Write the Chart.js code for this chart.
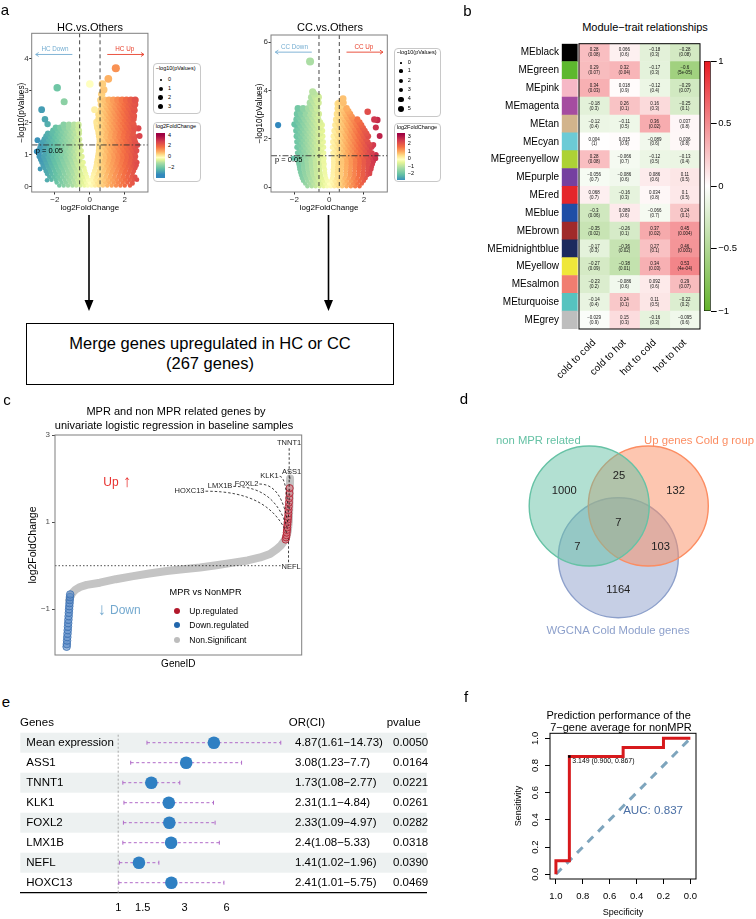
<!DOCTYPE html>
<html>
<head>
<meta charset="utf-8">
<title>Figure</title>
<script src="https://cdn.jsdelivr.net/npm/chart.js@4.4.1/dist/chart.umd.min.js"></script>
<style>
  html, body { margin: 0; padding: 0; background: #fff; }
  body { position: relative; width: 756px; height: 919px; overflow: hidden;
         font-family: "Liberation Sans", Arial, sans-serif; color: #000; }
  canvas { position: absolute; }
  .txt { position: absolute; white-space: nowrap; line-height: 1; }
  .box { position: absolute; box-sizing: border-box; }
  svg { position: absolute; left: 0; top: 0; }
</style>
</head>
<body>
<svg width="756" height="919">
  <line x1="89" y1="215" x2="89" y2="302" stroke="#000" stroke-width="1.6"/>
  <polygon points="84.5,300 93.5,300 89,311" fill="#000"/>
  <line x1="328.5" y1="215" x2="328.5" y2="302" stroke="#000" stroke-width="1.6"/>
  <polygon points="324,300 333,300 328.5,311" fill="#000"/>
</svg>
<div class="box" style="left:26px;top:322.7px;width:368px;height:62.3px;border:1.5px solid #000"></div>
<script>
// ======================================
// Data
// ======================================

// a: volcano plots, rows of [ -log10(p), [log2FC, ...] ]

const hcRows = [
    [0.04, [-1.75, -1.5, -1.25, -1.0, -0.78, -0.55, -0.32, -0.12, 0.1, 0.3, 0.52, 0.75, 1.0, 1.25, 1.5, 1.75, 2.0, 2.3]],
    [0.22, [-2.2, -1.95, -1.7, -1.45, -1.2, -0.95, -0.72, -0.5, -0.28, -0.1, 0.12, 0.32, 0.55, 0.78, 1.02, 1.27, 1.52, 1.77, 2.02, 2.27, 2.5]],
    [0.4, [-2.45, -2.2, -1.95, -1.7, -1.45, -1.2, -0.95, -0.72, -0.48, -0.22, 0.2, 0.45, 0.7, 0.95, 1.2, 1.45, 1.7, 1.95, 2.2, 2.45]],
    [0.58, [-2.6, -2.35, -2.1, -1.85, -1.6, -1.35, -1.1, -0.85, -0.6, -0.32, 0.32, 0.6, 0.85, 1.1, 1.35, 1.6, 1.85, 2.1, 2.35, 2.6]],
    [0.76, [-2.75, -2.5, -2.25, -2.0, -1.75, -1.5, -1.25, -1.0, -0.75, -0.5, -0.38, 0.38, 0.55, 0.8, 1.05, 1.3, 1.55, 1.8, 2.05, 2.3, 2.55, 2.7]],
    [0.94, [-2.9, -2.65, -2.4, -2.15, -1.9, -1.65, -1.4, -1.15, -0.9, -0.65, -0.45, 0.45, 0.65, 0.9, 1.15, 1.4, 1.65, 1.9, 2.15, 2.4, 2.62]],
    [1.12, [-2.95, -2.7, -2.45, -2.2, -1.95, -1.7, -1.45, -1.2, -0.95, -0.7, -0.5, 0.5, 0.72, 0.97, 1.22, 1.47, 1.72, 1.97, 2.22, 2.47, 2.68]],
    [1.3, [-2.8, -2.55, -2.3, -2.05, -1.8, -1.55, -1.3, -1.05, -0.8, -0.55, 0.52, 0.75, 1.0, 1.25, 1.5, 1.75, 2.0, 2.25, 2.5]],
    [1.48, [-2.6, -2.35, -2.1, -1.85, -1.6, -1.35, -1.1, -0.85, -0.6, 0.55, 0.8, 1.05, 1.3, 1.55, 1.8, 2.05, 2.3, 2.55]],
    [1.66, [-2.4, -2.15, -1.9, -1.65, -1.4, -1.15, -0.9, -0.62, 0.5, 0.7, 0.95, 1.2, 1.45, 1.7, 1.95, 2.2, 2.45]],
    [1.84, [-1.95, -1.7, -1.45, -1.2, -0.95, -0.68, 0.42, 0.62, 0.87, 1.12, 1.37, 1.62, 1.87, 2.12, 2.37, 2.55]],
    [2.02, [0.38, 0.65, 0.9, 1.15, 1.4, 1.65, 1.9, 2.15, 2.4]],
    [2.2, [0.6, 0.85, 1.1, 1.35, 1.6, 1.85, 2.1, 2.35, 2.52]],
    [2.38, [0.62, 0.87, 1.12, 1.37, 1.62, 1.87, 2.12, 2.37, 2.55]],
    [2.56, [0.65, 0.9, 1.15, 1.4, 1.65, 1.9, 2.15, 2.4, 2.58]],
    [2.7, [0.62, 0.85, 1.1, 1.35, 1.6, 1.85, 2.1, 2.35, 2.6]]
];

// second, staggered layer of the HC cloud
const hcRowsB = [
    [0.13, [-1.9, -1.62, -1.37, -1.12, -0.88, -0.65, -0.42, -0.2, 0.0, 0.2, 0.42, 0.65, 0.88, 1.12, 1.37, 1.62, 1.88, 2.15, 2.42]],
    [0.31, [-2.32, -2.07, -1.82, -1.57, -1.32, -1.07, -0.83, -0.6, -0.38, -0.16, 0.16, 0.38, 0.65, 0.9, 1.15, 1.4, 1.65, 1.9, 2.15, 2.4, 2.6]],
    [0.49, [-2.52, -2.27, -2.02, -1.77, -1.52, -1.27, -1.02, -0.78, -0.55, -0.28, 0.26, 0.52, 0.78, 1.03, 1.28, 1.53, 1.78, 2.03, 2.28, 2.52]],
    [0.67, [-2.68, -2.43, -2.18, -1.93, -1.68, -1.43, -1.18, -0.93, -0.68, -0.45, 0.36, 0.58, 0.72, 0.97, 1.22, 1.47, 1.72, 1.97, 2.22, 2.47, 2.66]],
    [0.85, [-2.82, -2.57, -2.32, -2.07, -1.82, -1.57, -1.32, -1.07, -0.82, -0.57, 0.42, 0.6, 0.85, 1.1, 1.35, 1.6, 1.85, 2.1, 2.35, 2.58]],
    [1.03, [-2.9, -2.57, -2.32, -2.07, -1.82, -1.57, -1.32, -1.07, -0.82, -0.6, 0.48, 0.6, 0.85, 1.1, 1.35, 1.6, 1.85, 2.1, 2.35, 2.58]],
    [1.21, [-2.85, -2.6, -2.35, -2.1, -1.85, -1.6, -1.35, -1.1, -0.85, -0.62, 0.52, 0.62, 0.87, 1.12, 1.37, 1.62, 1.87, 2.12, 2.37, 2.6]],
    [1.39, [-2.7, -2.45, -2.2, -1.95, -1.7, -1.45, -1.2, -0.95, -0.7, 0.55, 0.65, 0.9, 1.15, 1.4, 1.65, 1.9, 2.15, 2.4, 2.6]],
    [1.57, [-2.5, -2.25, -2.0, -1.75, -1.5, -1.25, -1.0, -0.75, 0.52, 0.68, 0.92, 1.17, 1.42, 1.67, 1.92, 2.17, 2.42, 2.55]],
    [1.75, [-2.1, -1.82, -1.57, -1.32, -1.07, -0.82, -0.62, 0.48, 0.75, 1.0, 1.25, 1.5, 1.75, 2.0, 2.25, 2.5]],
    [1.93, [-1.5, -1.2, -0.9, -0.65, 0.4, 0.55, 0.78, 1.02, 1.27, 1.52, 1.77, 2.02, 2.27, 2.5]],
    [2.11, [0.5, 0.75, 1.0, 1.25, 1.5, 1.75, 2.0, 2.25, 2.5]],
    [2.29, [0.72, 0.97, 1.22, 1.47, 1.72, 1.97, 2.22, 2.45]],
    [2.47, [0.75, 1.0, 1.25, 1.5, 1.75, 2.0, 2.25, 2.5]],
    [2.63, [0.75, 1.0, 1.25, 1.5, 1.75, 2.0, 2.25, 2.5]]
];

// [log2FC, -log10(p)]
const hcExtra = [
    [-1.87, 3.08], [-1.47, 2.65], [-2.76, 2.4], [-2.57, 2.1], [-2.42, 1.95], [-3.0, 1.45],
    [-3.05, 1.1], [-2.85, 0.55], [-2.45, 0.2], [0.0, 3.2], [0.27, 2.4], [0.5, 2.25],
    [0.72, 3.2], [0.8, 3.02], [0.68, 2.88], [1.06, 3.36], [1.49, 3.69], [2.78, 1.82],
    [2.85, 1.58], [2.72, 1.3], [2.7, 0.22], [2.45, 0.1]
];

const ccRows = [
    [0.04, [-1.25, -1.0, -0.78, -0.55, -0.32, -0.12, 0.1, 0.3, 0.52, 0.75, 1.0, 1.25, 1.5, 1.75]],
    [0.27, [-1.5, -1.25, -1.0, -0.78, -0.55, -0.32, -0.12, 0.12, 0.32, 0.55, 0.78, 1.0, 1.25, 1.5, 1.75, 2.0]],
    [0.5, [-1.62, -1.4, -1.17, -0.95, -0.72, -0.48, -0.22, 0.2, 0.45, 0.7, 0.95, 1.2, 1.45, 1.7, 1.95, 2.2]],
    [0.73, [-1.7, -1.47, -1.23, -1.0, -0.77, -0.53, -0.25, 0.22, 0.47, 0.72, 0.97, 1.22, 1.47, 1.72, 1.97, 2.22, 2.42]],
    [0.96, [-1.75, -1.5, -1.27, -1.03, -0.8, -0.55, -0.28, 0.25, 0.5, 0.75, 1.0, 1.25, 1.5, 1.75, 2.0, 2.25, 2.5]],
    [1.19, [-1.8, -1.55, -1.3, -1.05, -0.82, -0.57, -0.3, 0.25, 0.5, 0.75, 1.0, 1.25, 1.5, 1.75, 2.0, 2.25, 2.5, 2.68]],
    [1.42, [-1.82, -1.57, -1.33, -1.08, -0.84, -0.6, -0.32, 0.22, 0.47, 0.72, 0.97, 1.22, 1.47, 1.72, 1.97, 2.22, 2.47]],
    [1.65, [-1.85, -1.6, -1.35, -1.1, -0.85, -0.6, -0.33, 0.2, 0.45, 0.7, 0.95, 1.2, 1.45, 1.7, 1.95, 2.2, 2.45]],
    [1.88, [-1.85, -1.6, -1.35, -1.1, -0.85, -0.6, -0.35, 0.22, 0.47, 0.72, 0.97, 1.22, 1.47, 1.72, 1.97, 2.22]],
    [2.11, [-1.88, -1.63, -1.38, -1.13, -0.88, -0.63, -0.38, 0.25, 0.5, 0.75, 1.0, 1.25, 1.5, 1.75, 2.0, 2.25]],
    [2.34, [-1.9, -1.65, -1.4, -1.15, -0.9, -0.65, -0.4, 0.3, 0.55, 0.8, 1.05, 1.3, 1.55, 1.8, 2.05]],
    [2.57, [-1.9, -1.65, -1.4, -1.15, -0.9, -0.65, -0.42, 0.35, 0.6, 0.85, 1.1, 1.35, 1.6, 1.85]],
    [2.8, [-1.88, -1.63, -1.38, -1.13, -0.88, -0.63, 0.4, 0.65, 0.9, 1.15, 1.4, 1.62]],
    [3.03, [-1.85, -1.6, -1.35, -1.1, -0.85, -0.6, 0.45, 0.7, 0.95, 1.2]],
    [3.26, [-1.8, -1.5, -1.2, -0.95, -0.7, 0.5, 0.75, 1.0]],
    [3.49, [-1.1, -0.85, -0.62, 0.58, 0.82]],
    [3.72, [-1.02, -0.78, -0.62]],
    [3.95, [-0.95]]
];

const ccRowsB = [
    [0.15, [-1.38, -1.12, -0.9, -0.67, -0.44, -0.22, 0.0, 0.2, 0.42, 0.64, 0.88, 1.12, 1.38, 1.62, 1.88]],
    [0.38, [-1.57, -1.33, -1.1, -0.88, -0.65, -0.42, -0.18, 0.18, 0.42, 0.65, 0.88, 1.12, 1.38, 1.62, 1.88, 2.1]],
    [0.61, [-1.66, -1.43, -1.2, -0.97, -0.74, -0.5, -0.25, 0.22, 0.46, 0.7, 0.95, 1.2, 1.45, 1.7, 1.95, 2.2, 2.35]],
    [0.84, [-1.72, -1.48, -1.25, -1.02, -0.78, -0.55, -0.3, 0.25, 0.48, 0.73, 0.98, 1.23, 1.48, 1.73, 1.98, 2.23, 2.45]],
    [1.07, [-1.78, -1.53, -1.28, -1.05, -0.8, -0.56, -0.32, 0.26, 0.52, 0.77, 1.02, 1.27, 1.52, 1.77, 2.02, 2.27, 2.55]],
    [1.3, [-1.68, -1.42, -1.18, -0.93, -0.69, -0.44, 0.37, 0.62, 0.87, 1.12, 1.37, 1.62, 1.87, 2.12, 2.37, 2.6]],
    [1.53, [-1.7, -1.45, -1.2, -0.96, -0.72, -0.46, 0.34, 0.58, 0.83, 1.08, 1.33, 1.58, 1.83, 2.08, 2.33]],
    [1.76, [-1.72, -1.47, -1.22, -0.97, -0.72, -0.47, 0.32, 0.58, 0.83, 1.08, 1.33, 1.58, 1.83, 2.08, 2.33]],
    [1.99, [-1.75, -1.5, -1.25, -1.0, -0.75, -0.5, 0.37, 0.62, 0.87, 1.12, 1.37, 1.62, 1.87, 2.12]],
    [2.22, [-1.77, -1.52, -1.27, -1.02, -0.77, -0.52, 0.42, 0.67, 0.92, 1.17, 1.42, 1.67, 1.92, 2.15]],
    [2.45, [-1.78, -1.53, -1.28, -1.03, -0.78, -0.53, 0.47, 0.72, 0.97, 1.22, 1.47, 1.72, 1.95]],
    [2.68, [-1.76, -1.5, -1.25, -1.0, -0.75, -0.52, 0.52, 0.77, 1.02, 1.27, 1.52, 1.75]],
    [2.91, [-1.72, -1.47, -1.22, -0.97, -0.72, 0.55, 0.8, 1.05, 1.3]],
    [3.14, [-1.65, -1.35, -1.05, -0.8, 0.6, 0.85, 1.1]],
    [3.38, [-1.0, -0.75, 0.65]],
    [3.6, [-0.95, -0.7]],
    [3.85, [-0.85]]
];

const ccExtra = [
    [-1.1, 5.2], [-2.94, 2.57], [-0.65, 3.75], [0.8, 3.66], [0.5, 3.45], [2.22, 3.12],
    [2.6, 2.8], [2.78, 2.78], [2.69, 2.47], [2.91, 2.12], [2.55, 1.75], [2.7, 1.35],
    [2.35, 0.55], [-2.0, 2.6], [-2.05, 1.2]
];

const FC_CUT = 0.585;      // log2(1.5)
const P_CUT = 1.301;       // -log10(0.05)

// b: module-trait heatmap

const modules = ['MEblack', 'MEgreen', 'MEpink', 'MEmagenta', 'MEtan', 'MEcyan', 'MEgreenyellow', 'MEpurple',
    'MEred', 'MEblue', 'MEbrown', 'MEmidnightblue', 'MEyellow', 'MEsalmon', 'MEturquoise', 'MEgrey'];

const moduleColors = ['#000000', '#5db82e', '#f6b8c6', '#a54ca0', '#d2b48c', '#6ccbd6', '#add235', '#7540a0',
    '#e5262b', '#1f4ea6', '#a02a2a', '#1c2a5e', '#efe73a', '#f07d70', '#56c3bf', '#bebebe'];

const traits = ['cold to cold', 'cold to hot', 'hot to cold', 'hot to hot'];

const corValues = [
    [0.28, 0.066, -0.18, -0.28],
    [0.29, 0.32, -0.17, -0.6],
    [0.34, 0.018, -0.12, -0.29],
    [-0.18, 0.26, 0.16, -0.25],
    [-0.12, -0.11, 0.36, 0.037],
    [0.004, 0.015, -0.089, 0.036],
    [0.28, -0.066, -0.12, -0.13],
    [-0.056, -0.086, 0.086, 0.11],
    [0.068, -0.16, 0.034, 0.1],
    [-0.3, 0.089, -0.066, 0.24],
    [-0.35, -0.26, 0.37, 0.45],
    [-0.17, -0.36, 0.27, 0.46],
    [-0.27, -0.38, 0.34, 0.53],
    [-0.23, -0.086, 0.092, 0.29],
    [-0.14, 0.24, 0.11, -0.22],
    [-0.029, 0.15, -0.16, -0.095]
];

const corP = [
    ['0.08', '0.6', '0.3', '0.08'],
    ['0.07', '0.04', '0.3', '5e-05'],
    ['0.03', '0.9', '0.4', '0.07'],
    ['0.3', '0.1', '0.3', '0.1'],
    ['0.4', '0.5', '0.02', '0.8'],
    ['1', '0.9', '0.6', '0.8'],
    ['0.08', '0.7', '0.5', '0.4'],
    ['0.7', '0.6', '0.6', '0.5'],
    ['0.7', '0.3', '0.8', '0.5'],
    ['0.06', '0.6', '0.7', '0.1'],
    ['0.02', '0.1', '0.02', '0.004'],
    ['0.3', '0.02', '0.1', '0.003'],
    ['0.09', '0.01', '0.03', '4e-04'],
    ['0.2', '0.6', '0.6', '0.07'],
    ['0.4', '0.1', '0.5', '0.2'],
    ['0.9', '0.3', '0.3', '0.6']
];

const colorStrip = [-0.572, -0.056];
const corTicks = [-1, -0.5, 0, 0.5, 1];

// c: ranked log2FoldChange (MPR vs NonMPR)

const downRank = [0, 1, 2, 3, 4, 5, 6, 7, 8, 9, 10, 11, 12, 13, 14, 15, 16];
const downFC = [-1.86, -1.8, -1.72, -1.64, -1.56, -1.48, -1.4, -1.32, -1.24, -1.16, -1.08, -1.0, -0.93, -0.86, -0.79, -0.72, -0.66];

const nsRank = [12, 16, 22, 30, 40, 60, 90, 149, 220, 298, 370, 448, 520, 597, 670, 746, 810, 866, 910, 940, 960, 970, 980, 985, 990, 994, 997, 1000];
const nsFC = [-0.78, -0.72, -0.66, -0.6, -0.55, -0.49, -0.44, -0.39, -0.31, -0.24, -0.18, -0.12, -0.08, -0.04, 0.01, 0.07, 0.12, 0.19, 0.27, 0.38, 0.47, 0.54, 0.62, 0.69, 0.8, 1.0, 1.4, 2.0];

const upRank = [980, 982, 984, 985, 986, 987, 988, 989, 990, 991, 992, 993, 994, 995, 996, 997, 998];
const upFC = [0.6, 0.65, 0.7, 0.76, 0.82, 0.88, 0.94, 1.0, 1.06, 1.12, 1.2, 1.28, 1.36, 1.45, 1.55, 1.66, 1.78];

const labeledGenes = ['TNNT1', 'ASS1', 'KLK1', 'FOXL2', 'LMX1B', 'HOXC13', 'NEFL'];
const labeledRank = [996, 999, 994, 992, 990, 988, 993];
const labeledFC = [1.3, 1.95, 1.05, 0.92, 0.82, 0.72, 0.62];
// where each label sits (rank, log2FC) and how its leader runs
const labelRankPos = [995.5, 1006.7, 908, 805, 686.5, 550, 1004.5];
const labelFCPos = [2.81, 2.16, 2.05, 1.875, 1.82, 1.71, -0.035];
const labelLeader = ['below', 'below', 'side', 'side', 'side', 'side', 'above'];

// d: Venn counts (A = non MPR related, B = Up genes Cold group, C = WGCNA Cold Module genes)

const vennCounts = [1000, 132, 1164, 25, 7, 103, 7];   // A, B, C, AB, AC, BC, ABC
const vennSpots = [[94.3, 71], [205.7, 71], [148.3, 170], [149, 55.7], [107.3, 126.7], [190.7, 126.7], [148.3, 102.7]];
const vennCircles = [[119.2, 86], [178.3, 86], [148.3, 137.7]];

// e: univariate logistic regression

const forestGenes = ['Mean expression', 'ASS1', 'TNNT1', 'KLK1', 'FOXL2', 'LMX1B', 'NEFL', 'HOXC13'];
const forestOR = [4.87, 3.08, 1.73, 2.31, 2.33, 2.4, 1.41, 2.41];
const forestLow = [1.61, 1.23, 1.08, 1.1, 1.09, 1.08, 1.02, 1.01];
const forestHigh = [14.73, 7.7, 2.77, 4.84, 4.97, 5.33, 1.96, 5.75];
const forestP = [0.0050, 0.0164, 0.0221, 0.0261, 0.0282, 0.0318, 0.0390, 0.0469];
const forestTicks = [1, 1.5, 3, 6];

// f: ROC curve

const rocSpec = [1, 1, 0.9, 0.9, 0.5, 0.5, 0.2, 0.2, 0];
const rocSens = [0, 0.1, 0.1, 0.867, 0.867, 0.933, 0.933, 1, 1];
const rocTicks = [0, 0.2, 0.4, 0.6, 0.8, 1];
const rocAUC = 0.837;
const cutValue = 3.149;
const cutSpec = 0.9;
const cutSens = 0.867;
const aucPos = [0.5, 0.468];

// ======================================
// Helpers
// ======================================

const FONT = '"Liberation Sans", Arial, sans-serif';

Chart.defaults.font.family = FONT;
Chart.defaults.color = '#000';
Chart.defaults.animation = false;
Chart.defaults.responsive = false;
Chart.defaults.plugins.legend.display = false;
Chart.defaults.plugins.tooltip.enabled = false;

// log2FoldChange colour ramps (value, colour)
const hcColorStops = [[-3.2, '#3288bd'], [-2, '#66c2a5'], [-1, '#abdda4'], [-0.4, '#e6f598'], [0, '#ffffbf'],
    [0.5, '#fee08b'], [1.1, '#fdae61'], [2, '#f46d43'], [3, '#d53e4f'], [4.2, '#9e0142']];
const ccColorStops = [[-2.9, '#3288bd'], [-2, '#66c2a5'], [-1.1, '#abdda4'], [-0.4, '#e6f598'], [0, '#ffffbf'],
    [0.5, '#fee08b'], [1, '#fdae61'], [1.7, '#f46d43'], [2.5, '#d53e4f'], [3.4, '#9e0142']];

function hexRgb(h) {
    return [parseInt(h.slice(1, 3), 16), parseInt(h.slice(3, 5), 16), parseInt(h.slice(5, 7), 16)];
}

function rampColor(v, stops) {
    if (v <= stops[0][0]) return stops[0][1];
    for (let i = 0; i < stops.length - 1; i++) {
        const [v0, c0] = stops[i];
        const [v1, c1] = stops[i + 1];
        if (v <= v1) {
            const f = (v - v0) / (v1 - v0);
            const a = hexRgb(c0);
            const b = hexRgb(c1);
            return 'rgb(' + a.map((c, k) => Math.round(c + (b[k] - c) * f)).join(',') + ')';
        }
    }
    return stops[stops.length - 1][1];
}

function rampCss(stops, lo, hi) {
    return 'linear-gradient(to top,' + stops.map(([v, c]) =>
        c + ' ' + (100 * (v - lo) / (hi - lo)).toFixed(1) + '%').join(',') + ')';
}

function corColor(v) {
    const end = v >= 0 ? [232, 24, 32] : [98, 178, 42];
    const t = Math.min(1, Math.abs(v));
    return 'rgb(' + end.map(c => Math.round(255 + (c - 255) * t)).join(',') + ')';
}

function fmtMinus(v) {
    return String(v).replace('-', '\u2212');
}

function makeCanvas(x, y, w, h) {
    const c = document.createElement('canvas');
    c.width = w;
    c.height = h;
    c.style.left = x + 'px';
    c.style.top = y + 'px';
    c.style.width = w + 'px';
    c.style.height = h + 'px';
    document.body.appendChild(c);
    return c;
}

function addText(str, x, y, size, opt) {
    opt = opt || {};
    const el = document.createElement('div');
    el.className = 'txt';
    el.textContent = str;
    el.style.left = x + 'px';
    el.style.top = y + 'px';
    el.style.fontSize = size + 'px';
    if (opt.color) el.style.color = opt.color;
    const tx = opt.align === 'left' ? '0' : (opt.align === 'right' ? '-100%' : '-50%');
    el.style.transform = 'translate(' + tx + ',-50%)' + (opt.rotate ? ' rotate(' + opt.rotate + 'deg)' : '');
    document.body.appendChild(el);
    return el;
}

function addBox(x, y, w, h, css) {
    const el = document.createElement('div');
    el.className = 'box';
    el.style.cssText += 'left:' + x + 'px;top:' + y + 'px;width:' + w + 'px;height:' + h + 'px;' + (css || '');
    document.body.appendChild(el);
    return el;
}

function dot(cx, cy, d, color) {
    return addBox(cx - d / 2, cy - d / 2, d, d, 'border-radius:50%;background:' + color);
}

function strokeLine(ctx, x1, y1, x2, y2) {
    ctx.beginPath();
    ctx.moveTo(x1, y1);
    ctx.lineTo(x2, y2);
    ctx.stroke();
}

function fixedTicks(values) {
    return (s) => { s.ticks = values.map(v => ({ value: v })); };
}

// ======================================
// a: volcano plots
// ======================================

const volcanoDeco = {
    id: 'volcanoDeco',
    afterDatasetsDraw(chart, args, o) {
        const { ctx, chartArea: a, scales: { x, y } } = chart;
        ctx.save();
        ctx.strokeStyle = '#333';
        ctx.lineWidth = 0.9;
        ctx.setLineDash([4, 3]);
        [-FC_CUT, FC_CUT].forEach(v => {
            const px = x.getPixelForValue(v);
            strokeLine(ctx, px, a.top, px, a.bottom);
        });
        ctx.setLineDash([6, 2, 1.5, 2]);
        const py = y.getPixelForValue(P_CUT);
        strokeLine(ctx, a.left, py, a.right, py);
        ctx.setLineDash([]);

        ctx.fillStyle = '#000';
        ctx.font = '7.5px ' + FONT;
        ctx.textAlign = 'left';
        ctx.textBaseline = 'middle';
        ctx.fillText('p = 0.05', a.left + 4, py + o.pDy);

        // direction arrows
        const ay = y.getPixelForValue(o.arrowY);
        const ly = y.getPixelForValue(o.labelY);
        [[-1, '#74add1', o.group + ' Down'], [1, '#e8412c', o.group + ' Up']].forEach(([s, col, txt]) => {
            const x1 = x.getPixelForValue(s * 1.0);
            const x2 = x.getPixelForValue(s * 3.1);
            ctx.strokeStyle = col;
            ctx.lineWidth = 0.9;
            strokeLine(ctx, x1, ay, x2, ay);
            strokeLine(ctx, x2, ay, x2 - s * 3, ay - 2);
            strokeLine(ctx, x2, ay, x2 - s * 3, ay + 2);
            ctx.fillStyle = col;
            ctx.font = '6.3px ' + FONT;
            ctx.textAlign = 'center';
            ctx.fillText(txt, x.getPixelForValue(s * 2.0), ly);
        });

        ctx.strokeStyle = '#7f7f7f';
        ctx.lineWidth = 1;
        ctx.strokeRect(a.left, a.top, a.right - a.left, a.bottom - a.top);
        ctx.restore();
    }
};

function drawVolcano(canvas, cfg) {
    const pts = [];
    cfg.rows.forEach(([p, fcs]) => fcs.forEach(fc => pts.push({ x: fc, y: p })));
    cfg.extra.forEach(([fc, p]) => pts.push({ x: fc, y: p }));
    pts.sort((a, b) => a.y - b.y);

    return new Chart(canvas, {
        type: 'scatter',
        data: {
            datasets: [{
                data: pts,
                pointRadius: (c) => 2.2 + cfg.sizeSlope * c.raw.y,
                pointBackgroundColor: (c) => rampColor(c.raw.x, cfg.stops),
                pointBorderWidth: 0
            }]
        },
        options: {
            layout: { padding: { top: cfg.padTop, right: cfg.padRight, left: 0, bottom: 0 } },
            plugins: {
                volcanoDeco: { group: cfg.group, arrowY: cfg.arrowY, labelY: cfg.labelY, pDy: cfg.pDy }
            },
            scales: {
                x: {
                    type: 'linear', min: -cfg.xLim, max: cfg.xLim,
                    afterBuildTicks: fixedTicks([-2, 0, 2]),
                    ticks: { font: { size: 8 }, color: '#333', padding: 0.7, callback: v => fmtMinus(v) },
                    grid: { drawOnChartArea: false, tickLength: 2.5, color: '#333' },
                    border: { display: false },
                    title: { display: true, text: 'log2FoldChange', font: { size: 8 }, padding: { top: 0, bottom: 3.9 } },
                    afterFit: (s) => { s.height = 24; }
                },
                y: {
                    type: 'linear', min: cfg.yMin, max: cfg.yMax,
                    afterBuildTicks: fixedTicks(cfg.yTicks),
                    ticks: { font: { size: 8 }, color: '#333', padding: 0.5 },
                    grid: { drawOnChartArea: false, tickLength: 2.5, color: '#333' },
                    border: { display: false },
                    title: { display: true, text: '\u2212log10(pValues)', font: { size: 8.3 }, padding: { top: cfg.yTitlePad, bottom: 0 } },
                    afterFit: (s) => { s.width = cfg.yAxisW; }
                }
            }
        },
        plugins: [volcanoDeco]
    });
}

drawVolcano(makeCanvas(0, 0, 152, 216), {
    rows: hcRows.concat(hcRowsB), extra: hcExtra, group: 'HC', stops: hcColorStops,
    xLim: 3.33, yMin: -0.165, yMax: 4.78, yTicks: [0, 1, 2, 3, 4], sizeSlope: 0.5,
    padTop: 33.3, padRight: 3.7, yAxisW: 31.7, yTitlePad: 16.7,
    arrowY: 4.12, labelY: 4.29, pDy: 6
});

drawVolcano(makeCanvas(240, 0, 152, 216), {
    rows: ccRows.concat(ccRowsB), extra: ccExtra, group: 'CC', stops: ccColorStops,
    xLim: 3.35, yMin: -0.2, yMax: 6.3, yTicks: [0, 2, 4, 6], sizeSlope: 0.35,
    padTop: 35, padRight: 4.7, yAxisW: 31, yTitlePad: 15,
    arrowY: 5.59, labelY: 5.78, pDy: 4
});

addText('HC.vs.Others', 90, 27.3, 11);
addText('CC.vs.Others', 330, 27.3, 11);

// volcano legends
function volcanoLegend(x, y1, h1, y2, h2, w, dots, dotX, labX, barX, barY, barH, barCss, barTicks) {
    addBox(x, y1, w, h1, 'border:0.8px solid #c8c8c8;border-radius:4px');
    addText('\u2212log10(pValues)', x + 2.7, y1 + 5.5, 5.5, { align: 'left' });
    dots.forEach(([lab, cy, d]) => {
        dot(dotX, cy, d, '#000');
        addText(lab, labX, cy, 5.5, { align: 'left' });
    });
    addBox(x, y2, w, h2, 'border:0.8px solid #c8c8c8;border-radius:4px');
    addText('log2FoldChange', x + 2.7, y2 + 5, 5.5, { align: 'left' });
    addBox(barX, barY, 8.5, barH, 'background:' + barCss);
    barTicks.forEach(([lab, cy]) => addText(lab, labX, cy, 5.5, { align: 'left' }));
}

volcanoLegend(153, 63, 51, 122, 60, 48,
    [['0', 80, 2], ['1', 88.7, 4], ['2', 97.7, 4.7], ['3', 106.7, 5.3]],
    160.7, 168, 156, 133, 45, rampCss(hcColorStops, -3.8, 4.56),
    [['4', 136], ['2', 146], ['0', 156.7], ['\u22122', 168.3]]);

volcanoLegend(394, 47.7, 69, 123.3, 58.4, 46.7,
    [['0', 62.7, 1.7], ['1', 71, 3.7], ['2', 80.7, 4.3], ['3', 90, 4.7], ['4', 99.3, 5.3], ['5', 108.7, 6]],
    401, 407.7, 396.7, 132.7, 47.3, rampCss(ccColorStops, -2.76, 3.53),
    [['3', 136.7], ['2', 144.3], ['1', 151.7], ['0', 159.3], ['\u22121', 166.7], ['\u22122', 174.3]]);

addText('Merge genes upregulated in HC or CC', 210, 343, 16.5);
addText('(267 genes)', 210, 363, 16.5);

// ======================================
// b: module-trait heatmap
// ======================================

const heatText = {
    id: 'heatText',
    afterDatasetsDraw(chart) {
        const { ctx, chartArea: a, scales: { x, y } } = chart;
        ctx.save();
        ctx.fillStyle = '#111';
        ctx.font = '4.5px ' + FONT;
        ctx.textAlign = 'center';
        ctx.textBaseline = 'middle';
        modules.forEach((m, i) => {
            const cy = y.getPixelForValue(i);
            traits.forEach((t, j) => {
                const cx = x.getPixelForValue(j + 0.5);
                ctx.fillText(fmtMinus(corValues[i][j]), cx, cy - 2.4);
                ctx.fillText('(' + corP[i][j] + ')', cx, cy + 2.4);
            });
        });
        const left = x.getPixelForValue(0);
        const right = x.getPixelForValue(traits.length);
        ctx.strokeStyle = '#000';
        ctx.lineWidth = 1;
        ctx.strokeRect(left, a.top, right - left, a.bottom - a.top);
        ctx.restore();
    }
};

new Chart(makeCanvas(480, 35, 222, 345), {
    type: 'bar',
    data: {
        labels: modules,
        datasets: [
            { data: modules.map(() => colorStrip), backgroundColor: moduleColors },
            ...traits.map((t, j) => ({
                label: t,
                data: modules.map(() => [j, j + 1]),
                backgroundColor: corValues.map(r => corColor(r[j]))
            }))
        ]
    },
    options: {
        indexAxis: 'y',
        layout: { padding: { top: 8.4, right: 2, left: 0, bottom: 0 } },
        datasets: { bar: { grouped: false, barPercentage: 1, categoryPercentage: 1, borderWidth: 0 } },
        scales: {
            x: {
                type: 'linear', min: colorStrip[0], max: traits.length,
                afterBuildTicks: fixedTicks(traits.map((t, j) => j + 0.5)),
                ticks: { autoSkip: false, minRotation: 45, maxRotation: 45, font: { size: 10 }, padding: 8,
                         callback: (v) => traits[Math.round(v - 0.5)] },
                grid: { display: false, drawTicks: false },
                border: { display: false },
                afterFit: (s) => { s.height = 51; }
            },
            y: {
                type: 'category',
                ticks: { font: { size: 10 }, padding: 2.7, autoSkip: false },
                grid: { display: false, drawTicks: false },
                border: { display: false },
                afterFit: (s) => { s.width = 81.7; }
            }
        }
    },
    plugins: [heatText]
});

// colour key
new Chart(makeCanvas(700, 50, 56, 272), {
    type: 'bar',
    data: {
        labels: [''],
        datasets: [{
            data: [[corTicks[0], corTicks[corTicks.length - 1]]],
            backgroundColor: (c) => {
                const ca = c.chart.chartArea;
                if (!ca) return '#fff';
                const g = c.chart.ctx.createLinearGradient(0, ca.bottom, 0, ca.top);
                g.addColorStop(0, corColor(-1));
                g.addColorStop(0.5, corColor(0));
                g.addColorStop(1, corColor(1));
                return g;
            },
            borderColor: '#000',
            borderWidth: 0.8,
            borderSkipped: false,
            barPercentage: 1,
            categoryPercentage: 1
        }]
    },
    options: {
        layout: { padding: { top: 11, bottom: 11, left: 4, right: 0 } },
        scales: {
            x: { display: false },
            y: {
                position: 'right', min: -1, max: 1,
                afterBuildTicks: fixedTicks(corTicks),
                ticks: { font: { size: 9.5 }, padding: 1.5, callback: v => fmtMinus(v) },
                grid: { drawOnChartArea: false, tickLength: 6, color: '#000' },
                border: { display: false },
                afterFit: (s) => { s.width = 45.3; }
            }
        }
    }
});

addText('Module\u2212trait relationships', 645, 26.7, 11);

// ======================================
// c: ranked fold changes
// ======================================

const rankDeco = {
    id: 'rankDeco',
    afterDatasetsDraw(chart) {
        const { ctx, chartArea: a, scales: { x, y } } = chart;
        ctx.save();
        ctx.strokeStyle = '#222';
        ctx.lineWidth = 0.8;
        ctx.setLineDash([1.5, 2]);
        const y0 = y.getPixelForValue(0);
        strokeLine(ctx, a.left, y0, x.getPixelForValue(labelRankPos[6]) - 10, y0);

        ctx.font = '7.5px ' + FONT;
        ctx.textAlign = 'center';
        ctx.textBaseline = 'middle';
        labeledGenes.forEach((g, i) => {
            const lx = x.getPixelForValue(labelRankPos[i]);
            const ly = y.getPixelForValue(labelFCPos[i]);
            const px = x.getPixelForValue(labeledRank[i]);
            const py = y.getPixelForValue(labeledFC[i]);
            ctx.strokeStyle = '#111';
            ctx.setLineDash([2.5, 2]);
            ctx.beginPath();
            if (labelLeader[i] === 'side') {
                const sx = lx + ctx.measureText(g).width / 2 + 1;
                ctx.moveTo(sx, ly);
                ctx.bezierCurveTo(sx + (px - sx) * 0.55, ly, px - (px - sx) * 0.15, ly + (py - ly) * 0.35, px, py);
            } else if (labelLeader[i] === 'below') {
                ctx.moveTo(px, ly + 5);
                ctx.lineTo(px, py);
            } else {
                ctx.moveTo(px, ly - 5);
                ctx.lineTo(px, py);
            }
            ctx.stroke();
            ctx.setLineDash([]);
            ctx.fillStyle = '#222';
            ctx.fillText(g, lx, ly);
        });

        ctx.strokeStyle = '#7f7f7f';
        ctx.lineWidth = 1;
        ctx.strokeRect(a.left, a.top, a.right - a.left, a.bottom - a.top);
        ctx.restore();
    }
};

new Chart(makeCanvas(0, 400, 310, 280), {
    type: 'scatter',
    data: {
        datasets: [
            {
                data: upRank.map((r, i) => ({ x: r, y: upFC[i] })),
                pointRadius: 3.6,
                pointBackgroundColor: 'rgba(214,120,130,0.55)',
                pointBorderColor: '#b2182b',
                pointBorderWidth: 0.8
            },
            {
                data: downRank.map((r, i) => ({ x: r, y: downFC[i] })),
                pointRadius: 3.8,
                pointBackgroundColor: 'rgba(92,140,200,0.6)',
                pointBorderColor: '#3a6fb0',
                pointBorderWidth: 0.8
            },
            {
                data: nsRank.map((r, i) => ({ x: r, y: nsFC[i] })),
                showLine: true,
                borderColor: '#c4c4c4',
                borderWidth: 8,
                borderCapStyle: 'round',
                borderJoinStyle: 'round',
                pointRadius: 0
            }
        ]
    },
    options: {
        layout: { padding: { top: 35, right: 8.3, left: 0, bottom: 0 } },
        scales: {
            x: {
                type: 'linear', min: -52, max: 1052,
                ticks: { display: false },
                grid: { display: false, drawTicks: false },
                border: { display: false },
                title: { display: true, text: 'GeneID', font: { size: 10 }, padding: { top: 0, bottom: 10 } },
                afterFit: (s) => { s.height = 25; }
            },
            y: {
                type: 'linear', min: -2.05, max: 3,
                afterBuildTicks: fixedTicks([-1, 1, 3]),
                ticks: { font: { size: 8 }, color: '#4d4d4d', padding: 2, callback: v => fmtMinus(v) },
                grid: { drawOnChartArea: false, tickLength: 3, color: '#4d4d4d' },
                border: { display: false },
                title: { display: true, text: 'log2FoldChange', font: { size: 10.5 }, padding: { top: 27, bottom: 0 } },
                afterFit: (s) => { s.width = 55; }
            }
        }
    },
    plugins: [rankDeco]
});

addText('MPR and non MPR related genes by', 176, 410.7, 11);
addText('univariate logistic regression in baseline samples', 174, 425, 11);
addText('Up', 111, 482, 12, { color: '#e8312f' });
addText('\u2191', 127, 481, 17, { color: '#e8312f' });
addText('\u2193', 101.7, 609, 17, { color: '#74a9cf' });
addText('Down', 110, 609.7, 12, { color: '#74a9cf', align: 'left' });
addText('MPR vs NonMPR', 205.6, 593.3, 9.2);
[['Up.regulated', '#b2182b', 611], ['Down.regulated', '#2166ac', 625.3], ['Non.Significant', '#bdbdbd', 639.7]]
    .forEach(([lab, col, cy]) => {
        dot(177.3, cy, 6.4, col);
        addText(lab, 189.3, cy, 8.5, { align: 'left' });
    });

// ======================================
// d: Venn diagram
// ======================================

const vennText = {
    id: 'vennText',
    afterDatasetsDraw(chart) {
        const { ctx, scales: { x, y } } = chart;
        ctx.save();
        ctx.font = '11.2px ' + FONT;
        ctx.fillStyle = '#222';
        ctx.textAlign = 'center';
        ctx.textBaseline = 'middle';
        vennCounts.forEach((n, i) => ctx.fillText(String(n), x.getPixelForValue(vennSpots[i][0]), y.getPixelForValue(vennSpots[i][1])));
        ctx.restore();
    }
};

const vennStroke = ['#66c2a5', '#fc8d62', '#8da0cb'];
const vennFill = ['rgba(102,194,165,0.5)', 'rgba(252,141,98,0.5)', 'rgba(141,160,203,0.5)'];

new Chart(makeCanvas(470, 420, 286, 230), {
    type: 'bubble',
    data: {
        datasets: vennCircles.map((c, i) => ({
            data: [{ x: c[0], y: c[1], r: 60 }],
            backgroundColor: vennFill[i],
            borderColor: vennStroke[i],
            borderWidth: 1.4,
            clip: false
        }))
    },
    options: {
        layout: { padding: 0, autoPadding: false },
        scales: {
            x: { type: 'linear', min: 0, max: 286, display: false },
            y: { type: 'linear', min: 0, max: 230, reverse: true, display: false }
        }
    },
    plugins: [vennText]
});

addText('non MPR related', 538.3, 441, 11.3, { color: '#66c2a5' });
addText('Up genes Cold g roup', 699, 441, 11.3, { color: '#fc8d62' });
addText('WGCNA Cold Module genes', 618, 631, 11.3, { color: '#8da0cb' });

// ======================================
// e: forest plot
// ======================================

const forestDeco = {
    id: 'forestDeco',
    beforeDatasetsDraw(chart) {
        const { ctx, chartArea: a, scales: { x, y } } = chart;
        ctx.save();
        ctx.fillStyle = '#edf1f1';
        forestGenes.forEach((g, i) => {
            if (i % 2 === 0) {
                const t = y.getPixelForValue(i - 0.5);
                const b = y.getPixelForValue(i + 0.5);
                ctx.fillRect(a.left, t, a.right - a.left, b - t);
            }
        });
        ctx.strokeStyle = '#a8a8a8';
        ctx.lineWidth = 1;
        ctx.setLineDash([2, 2]);
        const x1 = x.getPixelForValue(1);
        strokeLine(ctx, x1, a.top + 2, x1, a.bottom);
        ctx.restore();
    },
    afterDatasetsDraw(chart) {
        const { ctx, chartArea: a, scales: { y } } = chart;
        ctx.save();
        ctx.fillStyle = '#000';
        ctx.font = '11.5px ' + FONT;
        ctx.textAlign = 'left';
        ctx.textBaseline = 'middle';
        forestGenes.forEach((g, i) => {
            const cy = y.getPixelForValue(i) + 0.5;
            ctx.fillText(g, a.left + 6, cy);
            ctx.fillText(forestOR[i] + '(' + forestLow[i] + '\u2212' + forestHigh[i] + ')', a.left + 274.7, cy);
            ctx.fillText(forestP[i].toFixed(4), a.left + 372.7, cy);
        });
        ctx.restore();
    }
};

new Chart(makeCanvas(14, 712, 419, 206), {
    type: 'scatter',
    data: {
        datasets: [
            {
                data: forestOR.map((v, i) => ({ x: v, y: i })),
                pointRadius: 6.3,
                pointBackgroundColor: '#2f80c3',
                pointBorderWidth: 0
            },
            ...forestGenes.map((g, i) => ({
                data: [{ x: forestLow[i], y: i }, { x: forestHigh[i], y: i }],
                showLine: true,
                borderColor: '#b06ac8',
                borderWidth: 1,
                borderDash: [3, 2.5],
                pointStyle: 'line',
                pointRotation: 90,
                pointRadius: 2,
                pointBorderColor: '#b06ac8',
                pointBorderWidth: 1
            }))
        ]
    },
    options: {
        layout: { padding: { top: 20.7, right: 0, left: 0, bottom: 0 } },
        scales: {
            x: {
                type: 'logarithmic', min: 0.198, max: 164.7,
                afterBuildTicks: fixedTicks(forestTicks),
                ticks: { font: { size: 11 }, padding: 8.7, callback: v => String(v) },
                grid: { display: false, drawTicks: false },
                border: { display: true, color: '#000', width: 1.2 },
                afterFit: (s) => { s.height = 25.3; }
            },
            y: { type: 'linear', min: -0.5, max: 7.5, reverse: true, display: false }
        }
    },
    plugins: [forestDeco]
});

addText('Genes', 20, 722.7, 11.5, { align: 'left' });
addText('OR(CI)', 288.7, 722.7, 11.5, { align: 'left' });
addText('pvalue', 386.7, 722.7, 11.5, { align: 'left' });

// ======================================
// f: ROC curve
// ======================================

const rocDeco = {
    id: 'rocDeco',
    afterDatasetsDraw(chart) {
        const { ctx, chartArea: a, scales: { x, y } } = chart;
        ctx.save();
        ctx.strokeStyle = '#000';
        ctx.lineWidth = 1;
        ctx.strokeRect(a.left, a.top, a.right - a.left, a.bottom - a.top);

        ctx.fillStyle = '#000';
        ctx.font = '9.5px ' + FONT;
        ctx.textAlign = 'center';
        ctx.textBaseline = 'middle';
        y.ticks.forEach(t => {
            ctx.save();
            ctx.translate(a.left - 15, y.getPixelForValue(t.value));
            ctx.rotate(-Math.PI / 2);
            ctx.fillText(t.value.toFixed(1), 0, 0);
            ctx.restore();
        });

        ctx.font = '6.9px ' + FONT;
        ctx.textAlign = 'left';
        ctx.fillText(cutValue.toFixed(3) + ' (' + cutSpec.toFixed(3) + ', ' + cutSens.toFixed(3) + ')',
            x.getPixelForValue(cutSpec) + 3, y.getPixelForValue(cutSens) + 4.6);

        ctx.font = '11.6px ' + FONT;
        ctx.fillStyle = '#4a6fa5';
        ctx.fillText('AUC: ' + rocAUC.toFixed(3), x.getPixelForValue(aucPos[0]), y.getPixelForValue(aucPos[1]));
        ctx.restore();
    }
};

new Chart(makeCanvas(500, 700, 200, 219), {
    type: 'scatter',
    data: {
        datasets: [
            {
                data: [{ x: cutSpec, y: cutSens }],
                pointStyle: 'rect',
                pointRadius: 1.8,
                pointBackgroundColor: '#000',
                pointBorderWidth: 0
            },
            {
                data: rocSpec.map((s, i) => ({ x: s, y: rocSens[i] })),
                showLine: true,
                borderColor: '#d7191c',
                borderWidth: 3,
                borderJoinStyle: 'miter',
                pointRadius: 0
            },
            {
                data: [{ x: 1, y: 0 }, { x: 0, y: 1 }],
                showLine: true,
                borderColor: '#7ea5bd',
                borderWidth: 3,
                borderDash: [8, 7],
                pointRadius: 0
            }
        ]
    },
    options: {
        layout: { padding: { top: 33.3, right: 3.3, left: 0, bottom: 0 } },
        scales: {
            x: {
                type: 'linear', reverse: true, min: -0.042, max: 1.044,
                afterBuildTicks: fixedTicks(rocTicks),
                ticks: { font: { size: 9.5 }, padding: 6.7, callback: v => v.toFixed(1) },
                grid: { drawOnChartArea: false, tickLength: 5, color: '#000' },
                border: { display: false },
                afterFit: (s) => { s.height = 40; }
            },
            y: {
                type: 'linear', min: -0.035, max: 1.037,
                afterBuildTicks: fixedTicks(rocTicks),
                ticks: { display: false },
                grid: { drawOnChartArea: false, tickLength: 5, color: '#000' },
                border: { display: false },
                afterFit: (s) => { s.width = 50; }
            }
        }
    },
    plugins: [rocDeco]
});

addText('Prediction performance of the', 618.7, 715, 11);
addText('7\u2212gene average for nonMPR', 621, 727.3, 11);
addText('Specificity', 623, 911.7, 9);
addText('Sensitivity', 518, 806, 9, { rotate: -90 });

// ======================================
// Panel letters
// ======================================

addText('a', 5, 8.7, 15);
addText('b', 467.5, 10, 15);
addText('c', 7, 398.7, 15);
addText('d', 464, 398, 15);
addText('e', 5.8, 700.9, 15);
addText('f', 466, 696, 15);
</script>
</body>
</html>
